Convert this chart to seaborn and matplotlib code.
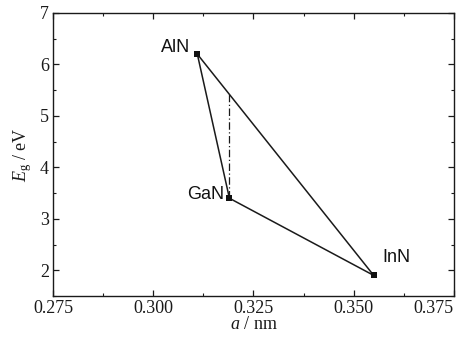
import matplotlib
matplotlib.use("Agg")
import matplotlib.pyplot as plt
from matplotlib.ticker import MultipleLocator
import numpy as np
import pandas as pd
import seaborn as sns

# Nitride semiconductors: lattice constant a (nm) and band gap Eg (eV)
materials = ["AlN", "GaN", "InN"]
lattice_a = [0.311, 0.319, 0.355]
band_gap = [6.2, 3.4, 1.9]
x_ticks = [0.275, 0.300, 0.325, 0.350, 0.375]
x_tick_labels = ["0.275", "0.300", "0.325", "0.350", "0.375"]

sns.set_theme(style="ticks")
plt.rcParams["font.family"] = ["Liberation Serif", "DejaVu Serif"]
plt.rcParams["mathtext.fontset"] = "custom"
plt.rcParams["mathtext.rm"] = "Liberation Serif"
plt.rcParams["mathtext.it"] = "Liberation Serif:italic"

df = pd.DataFrame({"material": materials, "a": lattice_a, "Eg": band_gap})
# closed triangle AlN -> GaN -> InN -> AlN
tri = pd.concat([df, df.iloc[[0]]], ignore_index=True)

fig, ax = plt.subplots(figsize=(4.67, 3.39), dpi=100)
fig.subplots_adjust(left=0.1135, right=0.972, top=0.9617, bottom=0.1268)

sns.lineplot(data=tri, x="a", y="Eg", sort=False, estimator=None,
             color="#1a1a1a", linewidth=1.1, ax=ax)
sns.scatterplot(data=df, x="a", y="Eg", marker="s", s=22, color="#111111",
                edgecolor="#111111", linewidth=0, zorder=5, ax=ax)

# vertical dash-dot from GaN up to the AlN-InN edge
ga_a, ga_e = lattice_a[1], band_gap[1]
top_e = np.interp(ga_a, [lattice_a[0], lattice_a[2]], [band_gap[0], band_gap[2]])
ax.plot([ga_a, ga_a], [ga_e, top_e], color="#1a1a1a", linewidth=0.9,
        linestyle=(0, (6, 2, 1, 2)))

label_offsets = {"AlN": (-5, 4.5, "right"), "GaN": (-4, 2.5, "right"), "InN": (6, 13, "left")}
for name, x, y in zip(materials, lattice_a, band_gap):
    dx, dy, ha = label_offsets[name]
    ax.annotate(name, (x, y), xytext=(dx, dy), textcoords="offset points",
                ha=ha, va="center", fontsize=13, family="Liberation Sans",
                color="#111111")

ax.set_xticks(x_ticks)
ax.set_xticklabels(x_tick_labels)
ax.xaxis.set_minor_locator(MultipleLocator(0.0125))
ax.yaxis.set_major_locator(MultipleLocator(1))
ax.yaxis.set_minor_locator(MultipleLocator(0.5))
ax.set_xlim(0.275, 0.375)
ax.set_ylim(1.5, 7)
ax.tick_params(which="both", direction="in", top=True, right=True,
               labelsize=13, colors="#1a1a1a", pad=3)
ax.tick_params(which="major", length=4, width=0.9)
ax.tick_params(which="minor", length=2.5, width=0.8)
for sp in ax.spines.values():
    sp.set_color("#1a1a1a")
    sp.set_linewidth(1.0)

# keep the last x tick label inside the figure
ax.get_xticklabels()[-1].set_horizontalalignment("right")

ax.set_xlabel(r"$a$ / nm", fontsize=13, labelpad=-1, color="#1a1a1a")
ax.set_ylabel(r"$E_{\mathrm{g}}$ / eV", fontsize=13, labelpad=4, color="#1a1a1a")

fig.savefig("out.png", dpi=100)
